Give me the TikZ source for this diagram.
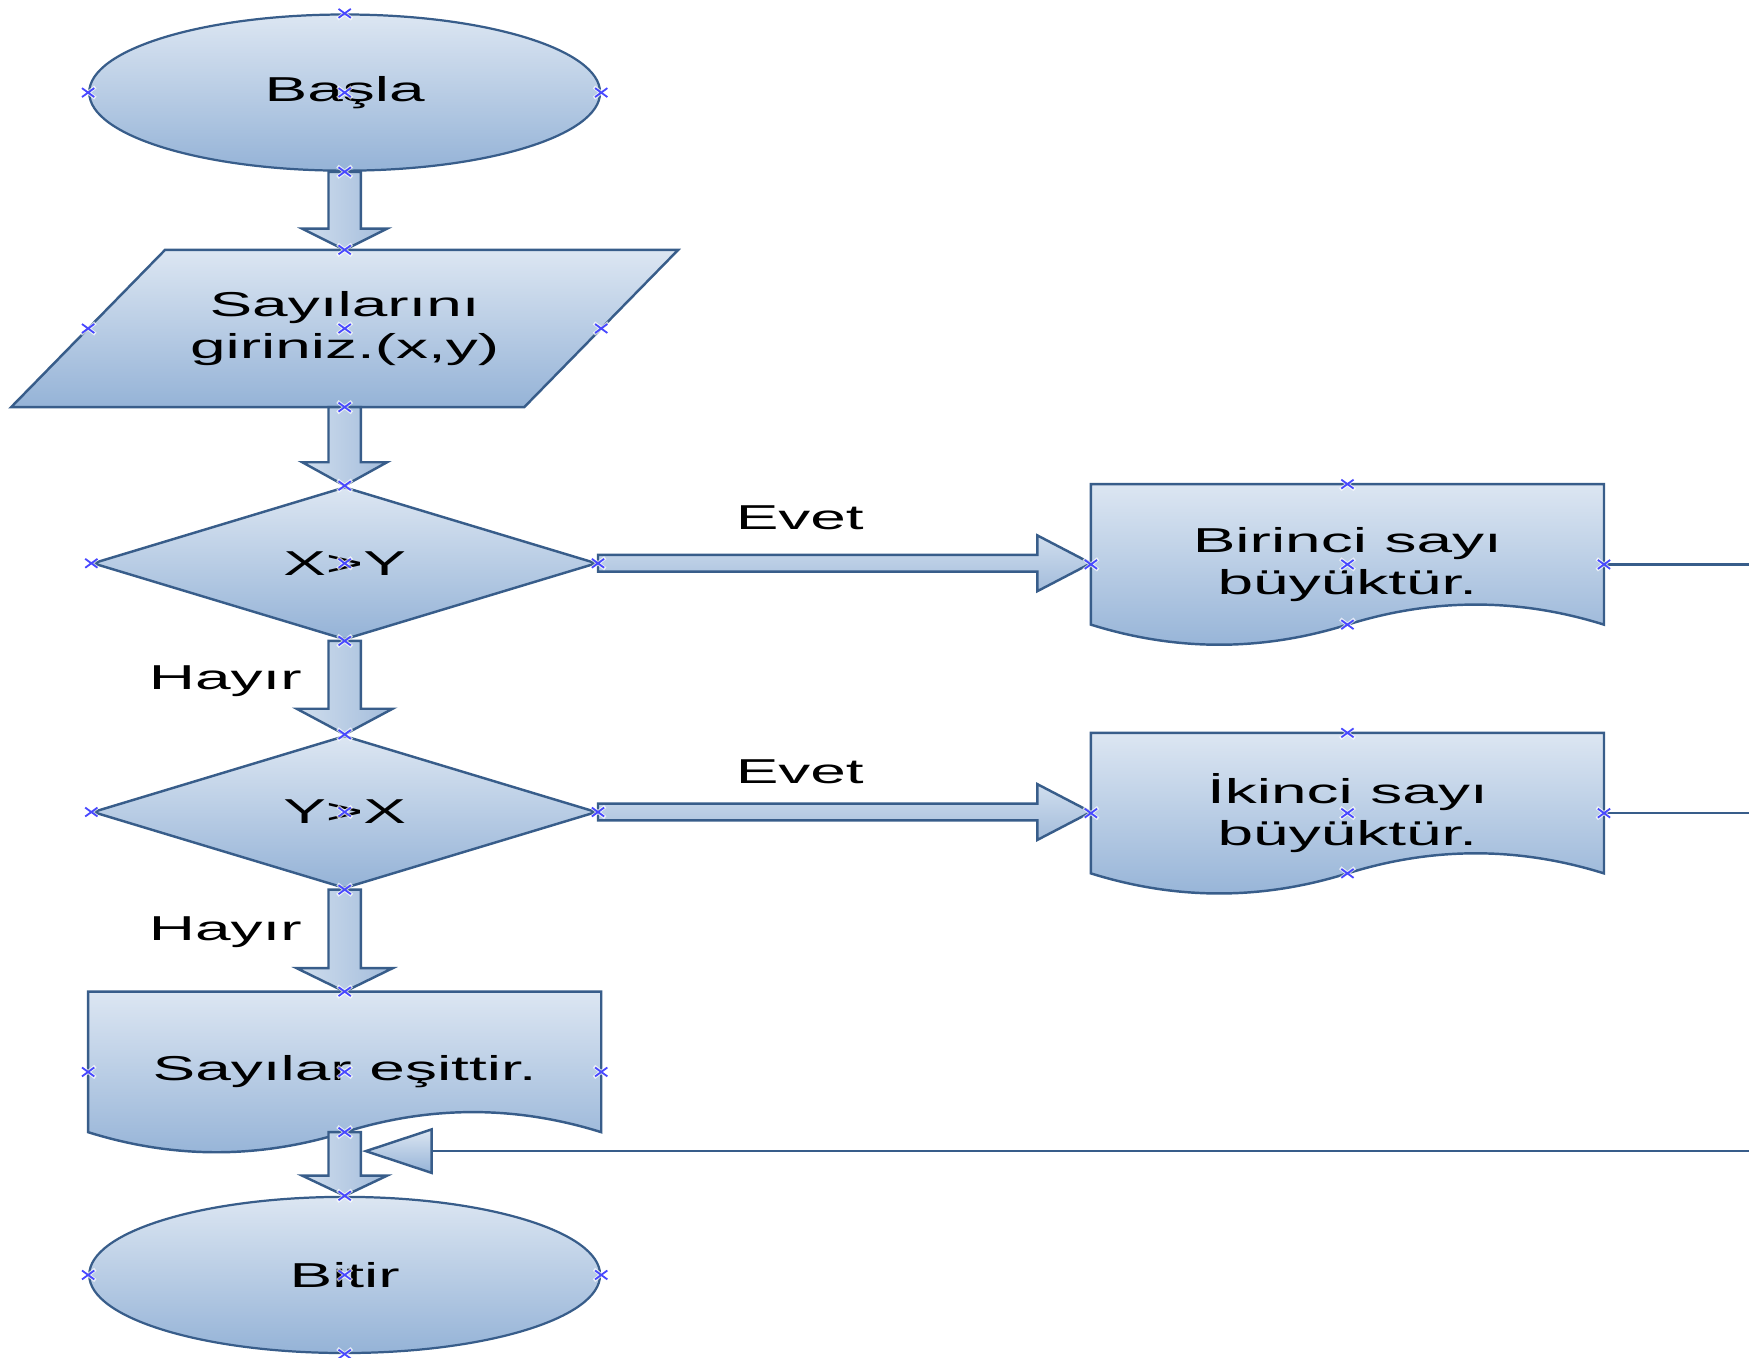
\documentclass[tikz,border=0pt]{standalone}
\usepackage{fontspec}
\setmainfont{Liberation Sans}
\usepackage{graphicx}
\usetikzlibrary{shapes.geometric,calc,backgrounds}

\definecolor{edgeblue}{RGB}{56,93,138}
\definecolor{toplight}{RGB}{220,230,242}
\definecolor{botdark}{RGB}{149,179,215}
\definecolor{shaftlight}{RGB}{208,222,238}
\definecolor{shaftdark}{RGB}{163,188,219}
\definecolor{markblue}{RGB}{72,72,255}

% wide lettering used throughout the chart
\newcommand\sx[1]{\scalebox{1.85}[1]{#1}}

% vertical block arrow: from anchor, to anchor, head half-width, head length
\newcommand\vblk[4]{%
  \draw[vblkstyle] let \p1=(#1), \p2=(#2) in
    (\x1-14.5pt,\y1) -- (\x1-14.5pt,\y2+#4) -- (\x1-#3,\y2+#4) -- (\x1,\y2)
    -- (\x1+#3,\y2+#4) -- (\x1+14.5pt,\y2+#4) -- (\x1+14.5pt,\y1) -- cycle;}

% horizontal block arrow: from anchor, to anchor
\newcommand\hblk[2]{%
  \draw[hblkstyle] let \p1=(#1), \p2=(#2) in
    (\x1,\y1+7.5pt) -- (\x2-48pt,\y1+7.5pt) -- (\x2-48pt,\y1+25pt) -- (\x2,\y1)
    -- (\x2-48pt,\y1-25pt) -- (\x2-48pt,\y1-7.5pt) -- (\x1,\y1-7.5pt) -- cycle;}

% document symbol with a wavy lower edge, drawn around a docbox node
\newcommand\docpath[1]{%
  \draw[docstyle] let \p1=(#1.north west), \p2=(#1.north east) in
    (\p1) -- (\p2) -- (\x2,\y1-126pt)
    .. controls (\x2-76.7pt,\y1-102pt) and (\x1+306.7pt,\y1-102pt) .. (\x1+230pt,\y1-126pt)
    .. controls (\x1+153.3pt,\y1-150pt) and (\x1+76.7pt,\y1-150pt) .. (\x1,\y1-126pt)
    -- cycle;}

% input/output parallelogram drawn around an iobox node
\newcommand\iopath[1]{%
  \draw[docstyle] ([xshift=138pt]#1.north west) -- (#1.north east)
    -- ([xshift=-138pt]#1.south east) -- (#1.south west) -- cycle;}

\begin{document}
\begin{tikzpicture}[x=1pt,y=-1pt,
  every node/.style={font=\fontsize{31}{38}\selectfont, text=black},
  flow/.style={draw=edgeblue, line width=2.2pt, top color=toplight, bottom color=botdark,
    inner sep=0pt, align=center},
  term/.style={flow, ellipse, line width=2pt, minimum width=458pt, minimum height=140pt},
  iobox/.style={inner sep=0pt, outer sep=0pt, minimum width=598pt, minimum height=141pt,
    align=center},
  dec/.style={flow, diamond, aspect=3.3, minimum width=452pt, minimum height=137pt},
  docbox/.style={inner sep=0pt, outer sep=0pt, minimum width=460pt, minimum height=144pt,
    align=center},
  docstyle/.style={draw=edgeblue, line width=2.2pt, top color=toplight, bottom color=botdark},
  vblkstyle/.style={draw=edgeblue, line width=2.2pt, left color=shaftlight, right color=shaftdark},
  hblkstyle/.style={draw=edgeblue, line width=2.2pt, top color=shaftlight, bottom color=shaftdark},
  conn/.style={draw=edgeblue, line width=2pt},
  lbl/.style={anchor=base, inner sep=0pt},
  cx/.pic={
    \draw[white, opacity=0.7, line width=3.4pt] (-6.5,-5) -- (6.5,5) (-6.5,5) -- (6.5,-5);
    \draw[markblue, line width=1.6pt] (-5.5,-4) -- (5.5,4) (-5.5,4) -- (5.5,-4);}
]
\useasboundingbox (0,0) rectangle (1568,1217);

% shapes
\node[term] (start) at (309,83) {\sx{Başla}};
\node[iobox] (inp) at (309,294.5) {\sx{Sayılarını}\\\sx{giriniz.(x,y)}};
\node[dec] (dA) at (309,505) {\sx{X>Y}};
\node[dec] (dB) at (309,728) {\sx{Y>X}};
\node[docbox] (d1) at (1208,506) {\sx{Birinci sayı}\\\sx{büyüktür.}};
\node[docbox] (d2) at (1208,729) {\sx{İkinci sayı}\\\sx{büyüktür.}};
\node[docbox] (d3) at (309,961) {\sx{Sayılar eşittir.}};
\node[term] (end) at (309,1143) {\sx{Bitir}};

\begin{pgfonlayer}{background}
  \iopath{inp}
  \docpath{d1}
  \docpath{d2}
  \docpath{d3}
\end{pgfonlayer}

\coordinate (d3b) at ([yshift=-126pt]d3.north);
\coordinate (e1) at (1568,506);
\coordinate (e2) at (1568,729);
\coordinate (e3) at (1568,1032);
\coordinate (j3) at (328,1032);

% block arrows
\vblk{start.south}{inp.north}{38pt}{19pt}
\vblk{inp.south}{dA.north}{38pt}{21pt}
\vblk{dA.south}{dB.north}{43pt}{23pt}
\vblk{dB.south}{d3.north}{43pt}{21pt}
\vblk{d3b}{end.north}{38pt}{18pt}
\hblk{dA.east}{d1.west}
\hblk{dB.east}{d2.west}

% plain connectors
\draw[conn] (d1.east) -- (e1);
\draw[conn] (d2.east) -- (e2);
\draw[conn] (e3) -- ([xshift=59pt]j3);
\draw[docstyle] (j3) -- ++(59,-19.5) -- ++(0,39) -- cycle;

% branch labels
\node[lbl] (yes1) at (717,475) {\sx{Evet}};
\node[lbl] (yes2) at (717,702) {\sx{Evet}};
\node[lbl] (no1) at (202,618) {\sx{Hayır}};
\node[lbl] (no2) at (202,843) {\sx{Hayır}};

% connection points
\foreach \n in {start,dA,dB,end}
  \foreach \a in {north,south,east,west,center}
    \pic at (\n.\a) {cx};
\foreach \a in {north,south,center}
  \pic at (inp.\a) {cx};
\pic at ([xshift=69pt]inp.west) {cx};
\pic at ([xshift=-69pt]inp.east) {cx};
\foreach \n in {d1,d2,d3}{
  \foreach \a in {north,center,east,west}
    \pic at (\n.\a) {cx};
  \pic at ([yshift=-126pt]\n.north) {cx};
}
\end{tikzpicture}
\end{document}
